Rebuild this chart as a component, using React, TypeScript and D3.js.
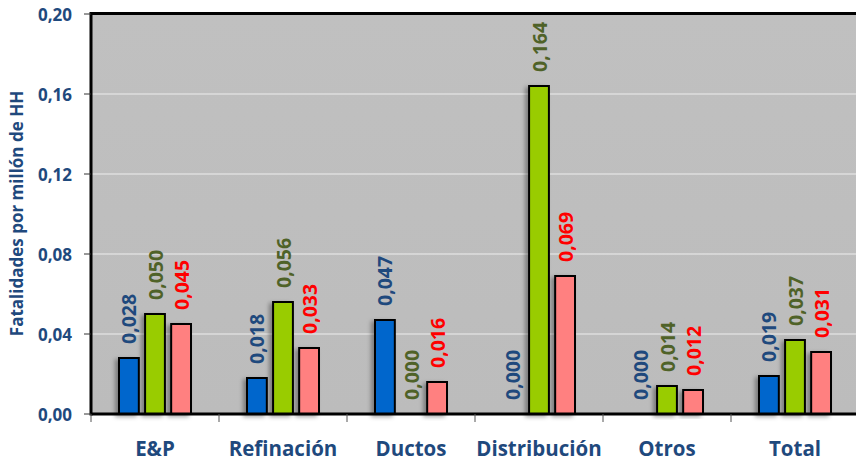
import React from "react";
import * as d3 from "d3";

const categories = ["E&P", "Refinación", "Ductos", "Distribución", "Otros", "Total"];
const seriesA = [0.028, 0.018, 0.047, 0.0, 0.0, 0.019];
const seriesB = [0.05, 0.056, 0.0, 0.164, 0.014, 0.037];
const seriesC = [0.045, 0.033, 0.016, 0.069, 0.012, 0.031];
const yTicks = [0, 0.04, 0.08, 0.12, 0.16, 0.2];
const yTitle = "Fatalidades por millón de HH";

const W = 856;
const H = 461;
const left = 91;
const right = 859;
const top = 14;
const bottom = 414;

const barFill = ["#0066cc", "#99cc00", "#ff8080"];
const labelFill = ["#1f497d", "#4f6228", "#ff0000"];
const axisText = "#1f497d";
const font = "'Open Sans', sans-serif";

export default function App() {
  const x = d3.scaleBand<string>().domain(categories).range([left, right]);
  const inner = d3.scaleBand<number>().domain([0, 1, 2]).range([-36, 36]).paddingInner(0.24).paddingOuter(0);
  const y = d3.scaleLinear().domain([0, 0.2]).range([bottom, top]);
  const series = [seriesA, seriesB, seriesC];
  const fmt = (v: number) => d3.format(".3f")(v).replace(".", ",");
  const fmtTick = (v: number) => d3.format(".2f")(v).replace(".", ",");

  return (
    <svg width={W} height={H} style={{ position: "absolute", left: 0, top: 0 }} fontFamily={font}>
      <defs>
        <filter id="sh" x="-50%" y="-20%" width="200%" height="140%">
          <feDropShadow dx={-3} dy={2} stdDeviation={2} floodColor="#000" floodOpacity={0.35} />
        </filter>
        <linearGradient id="bg" x1="0" y1="0" x2="0" y2="1">
          <stop offset="0" stopColor="#c0c0c0" />
          <stop offset="1" stopColor="#bcbcbc" />
        </linearGradient>
      </defs>
      <rect x={left} y={top} width={right - left} height={bottom - top} fill="url(#bg)" />
      {yTicks.slice(1, -1).map((t) => (
        <line key={t} x1={left} x2={right} y1={y(t)} y2={y(t)} stroke="#dedede" strokeWidth={1.5} />
      ))}
      {categories.map((c, i) => (
        <g key={c}>
          {series.map((s, k) => {
            const v = s[i];
            const bx = (x(c) as number) + x.bandwidth() / 2 + (inner(k) as number);
            const bw = inner.bandwidth();
            return (
              <g key={k}>
                {v > 0 && (
                  <rect x={bx} y={y(v)} width={bw} height={bottom - y(v)} fill={barFill[k]} stroke="#000" strokeWidth={2} filter="url(#sh)" />
                )}
                <text
                  transform={`translate(${bx + bw / 2},${y(v) - 14}) rotate(-90)`}
                  dominantBaseline="central"
                  textAnchor="start"
                  fontSize={19.5}
                  fontWeight="bold"
                  fill={labelFill[k]}
                >
                  {fmt(v)}
                </text>
              </g>
            );
          })}
        </g>
      ))}
      <line x1={left - 1} x2={right} y1={top - 0.5} y2={top - 0.5} stroke="#000" strokeWidth={3} />
      <line x1={left} x2={left} y1={top - 2} y2={bottom + 1.5} stroke="#000" strokeWidth={3} />
      <line x1={left} x2={right} y1={bottom} y2={bottom} stroke="#000" strokeWidth={3} />
      {yTicks.map((t) => (
        <g key={t}>
          <line x1={left - 7} x2={left} y1={y(t)} y2={y(t)} stroke="#333" strokeWidth={1} />
          <text x={72} y={y(t)} textAnchor="end" dominantBaseline="central" fontSize={17} fontWeight="bold" fill={axisText}>
            {fmtTick(t)}
          </text>
        </g>
      ))}
      {categories.map((c) => (
        <line key={"t" + c} x1={x(c) as number} x2={x(c) as number} y1={bottom} y2={bottom + 8} stroke="#555" strokeWidth={1} />
      ))}
      {categories.map((c) => (
        <text key={"l" + c} x={(x(c) as number) + x.bandwidth() / 2} y={448} textAnchor="middle" dominantBaseline="central" fontSize={20.5} fontWeight="bold" fill={axisText}>
          {c}
        </text>
      ))}
      <text transform={`translate(16,${(90 + 337) / 2}) rotate(-90)`} textAnchor="middle" dominantBaseline="central" fontSize={17} fontWeight="bold" fill={axisText}>
        {yTitle}
      </text>
    </svg>
  );
}
